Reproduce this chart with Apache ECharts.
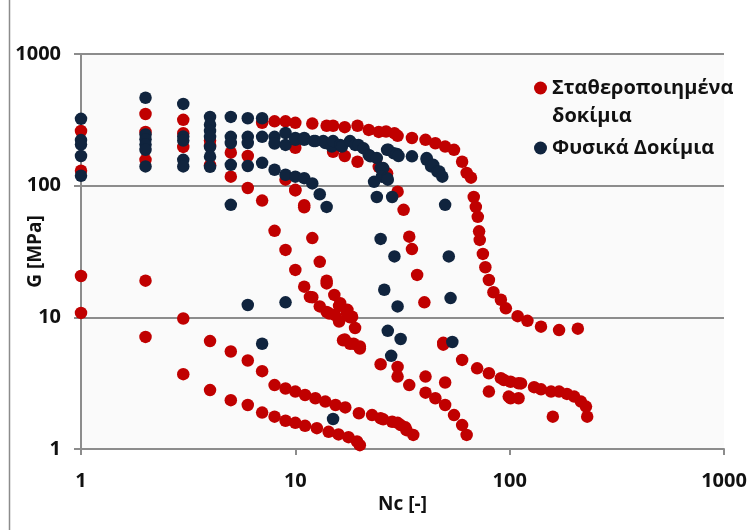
<!DOCTYPE html>
<html><head><meta charset="utf-8">
<script src="https://cdn.jsdelivr.net/npm/echarts@6/dist/echarts.min.js"></script>
<style>html,body{margin:0;padding:0;background:#fff}#c{width:753px;height:530px}</style>
</head><body><div id="c"></div>
<script>
// ---- Data: [Nc, G (MPa)] ----
const seriesNames = ['Σταθεροποιημένα δοκίμια', 'Φυσικά Δοκίμια'];
const xTickLabels = ['1', '10', '100', '1000'];
const yTickLabels = ['1', '10', '100', '1000'];

// Stabilized specimens (red)
const stabStart = [[1,260],[1,130],[1,20.6],[1,10.8],
  [2,350],[2,256],[2,157],[2,19],[2,7.1],
  [3,316],[3,250],[3,197],[3,9.8],[3,3.7],
  [4,220],[4,200],[4,143],[4,6.6],[4,2.8],
  [5,178],[5,117],[5,5.5],[5,2.35],
  [6,168],[6,96],[6,4.7],[6,2.16],
  [7,300],[7,77],[7,3.9],[7,1.89]];
const stabTop = [[8,308],[9,308],[10,300],[12,296],[14,285],[15,285],[17,278],[19.5,285],[22,265],[24.5,256],
  [26.5,258],[29,250],[30,239],[35,230],[40.5,223],[45,210],[50,198],[55,187],[60,152],[63,125],[66,115],
  [68,82],[69.5,69],[71,58],[72,45],[72.5,38.7],[75,30.3],[77,24],[80,19.2],[84,15.5],[91,13.6],[96,11.7],
  [109,10.2],[121,9.4],[140,8.5],[170,8.0],[208,8.2]];
const stabSecond = [[10,194],[15,181],[17,168],[19.5,152],[24.5,139],[26.8,124],[9,111],[10,93],[11,71]];
const stabMid = [[8,45.4],[9,32.5],[10,22.9],[11,17.1],[11.7,14.3],[12,14.2],[13,12.1],[14,11],[14.4,10.7],
  [15.3,10.4],[16,9.3],[17.4,10.7],[18,10],[19,8.3],[16,12.2],[15.2,14.8],[14,19],[13,26.4],[12,40],[11,68.5],
  [10,92],[14,18.1],[16.2,12.8],[17.5,11.4],[18.4,10.1],[16.7,6.7],[17,6.8],[18,6.3],[18.7,6.3],[20,6.0],[20,5.8]];
const stabRight = [[30,90],[32,65.5],[34,41],[35,33],[37,21],[40,13],[49,6.4],[49,6.2],[25,4.4],[30,4.2],
  [30,3.55],[34,3.06],[40.5,3.55],[40.5,2.68],[45,2.43],[50,3.2],[50,2.16],[55,1.81],[60,1.52],[63,1.28],
  [60,4.75],[70.5,4.1],[80,3.76],[80,2.73],[91,3.45],[94,3.34],[101,3.24],[110,3.16],[113,3.15],[99,2.5],
  [101,2.43],[110,2.43],[130,2.95],[140,2.84],[156,2.73],[170,2.73],[185,2.62],[200,2.5],[215,2.29],
  [227,2.1],[230,1.76],[159,1.76]];
const stabLow1 = [[8,3.06],[9,2.88],[10,2.73],[11.1,2.57],[12.4,2.43],[13.8,2.29],[15.4,2.16],[17.1,2.07],
  [19.8,1.87],[22.8,1.81],[25,1.71],[25.7,1.68],[28.3,1.61],[30,1.58],[31,1.52],[32.6,1.46],[33,1.39],[35.5,1.28]];
const stabLow2 = [[8,1.76],[9,1.64],[10,1.58],[11.1,1.5],[12.6,1.44],[14.3,1.35],[15.9,1.29],[17.7,1.23],
  [19.4,1.14],[20,1.07]];

// Natural specimens (navy)
const natStart = [[1,322],[1,222],[1,205],[1,168],[1,119],
  [2,465],[2,245],[2,225],[2,205],[2,187],[2,140],
  [3,418],[3,236],[3,220],[3,157],[3,140],
  [4,333],[4,290],[4,260],[4,235],[4,197],[4,166],[4,139],
  [5,333],[5,235],[5,211],[5,144],[5,71.5],
  [6,325],[6,235],[6,211],[6,141],[6,12.4],
  [7,325],[7,235],[7,149],[7,6.3]];
const natBand = [[8,235],[8,209],[8,132],[9,251],[9,204],[9,121],[10,230],[10,223],[10,117],[11,230],[11,223],
  [11,114],[12,104],[13,86],[14,69],[12.2,218],[12.4,218],[13.5,218],[13.8,211],[14.8,198],[15,218],[16.2,204],
  [16.5,198],[18,218],[19,204],[19.7,204],[20.8,192],[22,171],[22.4,167],[24,162],[26.8,187],[27.2,187],
  [28.8,176],[29.8,174],[30.3,168],[35,167],[41,162],[41,157],[43,140],[44,144],[46,128],[47,128],[48.5,117],
  [25,136],[25.7,136],[25.3,117],[26.8,114],[27,111],[23.3,107],[24,82],[28.3,82],[50,71.5]];
const natLow = [[25,39.4],[29,29],[26,16.2],[30,12.1],[27,7.9],[31,6.85],[28,5.1],[52,29],[53,14],[54,6.5],
  [9,13],[15,1.69]];

const stabilized = [].concat(stabStart, stabTop, stabSecond, stabMid, stabRight, stabLow1, stabLow2);
const natural = [].concat(natStart, natBand, natLow);

const FONT = '"Open Sans", "DejaVu Sans", sans-serif';
const chart = echarts.init(document.getElementById('c'), null, {renderer: 'canvas'});
chart.setOption({
  animation: false,
  backgroundColor: '#ffffff',
  textStyle: {fontFamily: FONT},
  graphic: [{type: 'line', shape: {x1: 9.5, y1: 0, x2: 9.5, y2: 530}, style: {stroke: '#8c8c8c', lineWidth: 1.5}, z: 0}],
  grid: {left: 81, right: 29, top: 54, bottom: 81, show: true, backgroundColor: '#fafafa', borderWidth: 0,
    containLabel: false, outerBoundsMode: 'none'},
  legend: {
    orient: 'vertical', left: 534, top: 46, padding: 0, itemGap: 4,
    icon: 'circle', itemWidth: 13, itemHeight: 13,
    formatter: n => n === seriesNames[0] ? ' \nΣταθεροποιημένα\nδοκίμια' : n,
    textStyle: {fontFamily: FONT, fontSize: 20, fontWeight: 'bold', color: '#111', lineHeight: 28},
    data: [{name: seriesNames[0]}, {name: seriesNames[1]}]
  },
  xAxis: {
    type: 'log', logBase: 10, min: 1, max: 1000,
    name: 'Nc [-]', nameLocation: 'middle', nameGap: 46, nameMoveOverlap: false,
    nameTextStyle: {fontFamily: FONT, fontSize: 19, fontWeight: 'bold', color: '#111'},
    axisLine: {show: true, lineStyle: {color: '#8c8c8c', width: 2}},
    axisTick: {show: true, inside: false, length: 6, lineStyle: {color: '#8c8c8c', width: 2}},
    axisLabel: {fontFamily: FONT, fontSize: 20, fontWeight: 'bold', color: '#111', margin: 22,
      formatter: v => { const i = Math.round(Math.log10(v)); return xTickLabels[i] !== undefined ? xTickLabels[i] : ''; }},
    splitLine: {show: false},
    minorTick: {show: false}
  },
  yAxis: {
    type: 'log', logBase: 10, min: 1, max: 1000,
    name: 'G [MPa]', nameLocation: 'middle', nameGap: 36, nameRotate: 90, nameMoveOverlap: false,
    nameTextStyle: {fontFamily: FONT, fontSize: 19, fontWeight: 'bold', color: '#111'},
    axisLine: {show: true, lineStyle: {color: '#8c8c8c', width: 2}},
    axisTick: {show: true, inside: false, length: 7, lineStyle: {color: '#8c8c8c', width: 2}},
    axisLabel: {fontFamily: FONT, fontSize: 20, fontWeight: 'bold', color: '#111', margin: 20,
      formatter: v => { const i = Math.round(Math.log10(v)); return yTickLabels[i] !== undefined ? yTickLabels[i] : ''; }},
    splitLine: {show: true, lineStyle: {color: '#8c8c8c', width: 2}}
  },
  series: [
    {name: seriesNames[0], type: 'scatter', data: stabilized, symbol: 'circle', symbolSize: 12.5,
      itemStyle: {color: '#C00000', opacity: 1}},
    {name: seriesNames[1], type: 'scatter', data: natural, symbol: 'circle', symbolSize: 12.5,
      itemStyle: {color: '#10243E', opacity: 1}}
  ]
});
</script></body></html>
